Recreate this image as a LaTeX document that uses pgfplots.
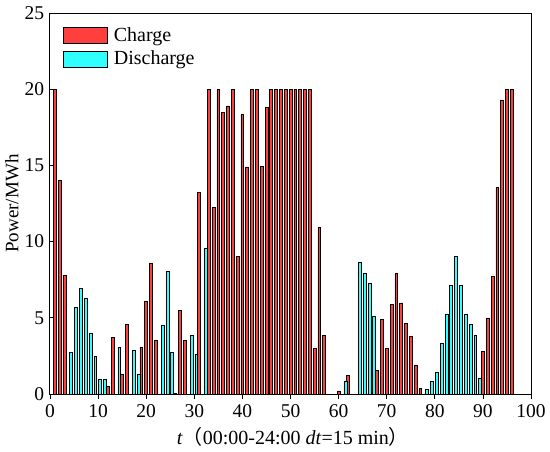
\documentclass[border=0pt]{standalone}
\usepackage{pgfplots}
\pgfplotsset{compat=1.18}
\usepackage{fontspec}
\setmainfont{Liberation Serif}
\newfontfamily\cjk{Noto Sans CJK SC}
\definecolor{chg}{RGB}{255,62,62}
\definecolor{dis}{RGB}{48,255,255}
\begin{document}
\fontsize{20}{24}\selectfont
\begin{tikzpicture}
\begin{axis}[
  width=481pt, height=381pt, scale only axis,
  xmin=0, xmax=100, ymin=0, ymax=25,
  xtick={0,10,...,100}, ytick={0,5,...,25},
  tick align=inside, xtick pos=bottom, ytick pos=left,
  major tick length=5pt,
  axis line style={line width=1pt},
  every tick/.style={black, line width=0.8pt},
  /pgf/number format/assume math mode=true,
  tick label style={font=\fontsize{19.5}{23}\selectfont},
  yticklabel style={xshift=1pt},
  xticklabel style={yshift=1pt},
  ybar, bar width=0.6,
  every axis x label/.style={at={(axis description cs:0.505,-0.113)}, anchor=center},
  every axis y label/.style={at={(axis description cs:-0.079,0.5)}, rotate=90, anchor=center},
  xlabel={\textit{t}{\cjk （}00:00-24:00 \textit{dt}=15 min{\cjk ）}},
  ylabel={\fontsize{19}{22}\selectfont Power/MWh},
  legend style={draw=none, fill=none, at={(0,1)}, anchor=north west, xshift=10pt, yshift=-10pt,
    font=\fontsize{20}{24}\selectfont, row sep=3pt},
  legend cell align=left,
  legend image code/.code={\draw[#1] (0pt,-8pt) rectangle (44pt,8pt); \path (48pt,0pt);},
]
\addplot[fill=chg, draw=black, line width=0.7pt, bar shift=0] coordinates {
(1,20) (2,14.0) (3,7.8) (12,0.48) (13,3.74) (15,1.3) (16,4.55) (19,3.08) (20,6.1) (21,8.56)
(22,3.5) (26,0.05) (27,5.48) (28,3.5) (31,13.2) (33,20) (34,12.25) (35,20) (36,18.46) (37,18.9)
(38,20) (39,9.02) (40,18.35) (41,14.9) (42,20) (43,20) (44,14.94) (45,18.8) (46,20) (47,20)
(48,20) (49,20) (50,20) (51,20) (52,20) (53,20) (54,20) (55,3.01) (56,10.93) (57,3.83)
(60,0.2) (62,1.21) (68,1.54) (69,4.9) (70,2.97) (71,5.87) (72,7.89) (73,5.98) (74,4.62) (75,3.78)
(76,1.91) (77,0.37) (90,2.79) (91,4.99) (92,7.69) (93,13.56) (94,19.3) (95,20) (96,20)
};
\addlegendentry{Charge}
\addplot[fill=dis, draw=black, line width=0.7pt, bar shift=0.42] coordinates {
(4,2.75) (5,5.7) (6,6.93) (7,6.27) (8,3.96) (9,2.46) (10,0.97) (11,0.97) (14,3.08) (17,2.86)
(18,1.32) (23,4.49) (24,8.03) (25,2.73) (29,3.85) (30,2.62) (32,9.53) (61,0.86) (64,8.66) (65,7.89)
(66,7.25) (67,5.1) (78,0.31) (79,0.86) (80,1.41) (81,3.34) (82,5.2) (83,7.12) (84,9.01) (85,7.12)
(86,5.2) (87,4.59) (88,3.82) (89,1.03)
};
\addlegendentry{Discharge}
\coordinate (O) at (rel axis cs:0,0);
\end{axis}
\pgfresetboundingbox
\path (O) ++(-50pt,-57pt) rectangle ++(550pt,451pt);
\end{tikzpicture}
\end{document}
